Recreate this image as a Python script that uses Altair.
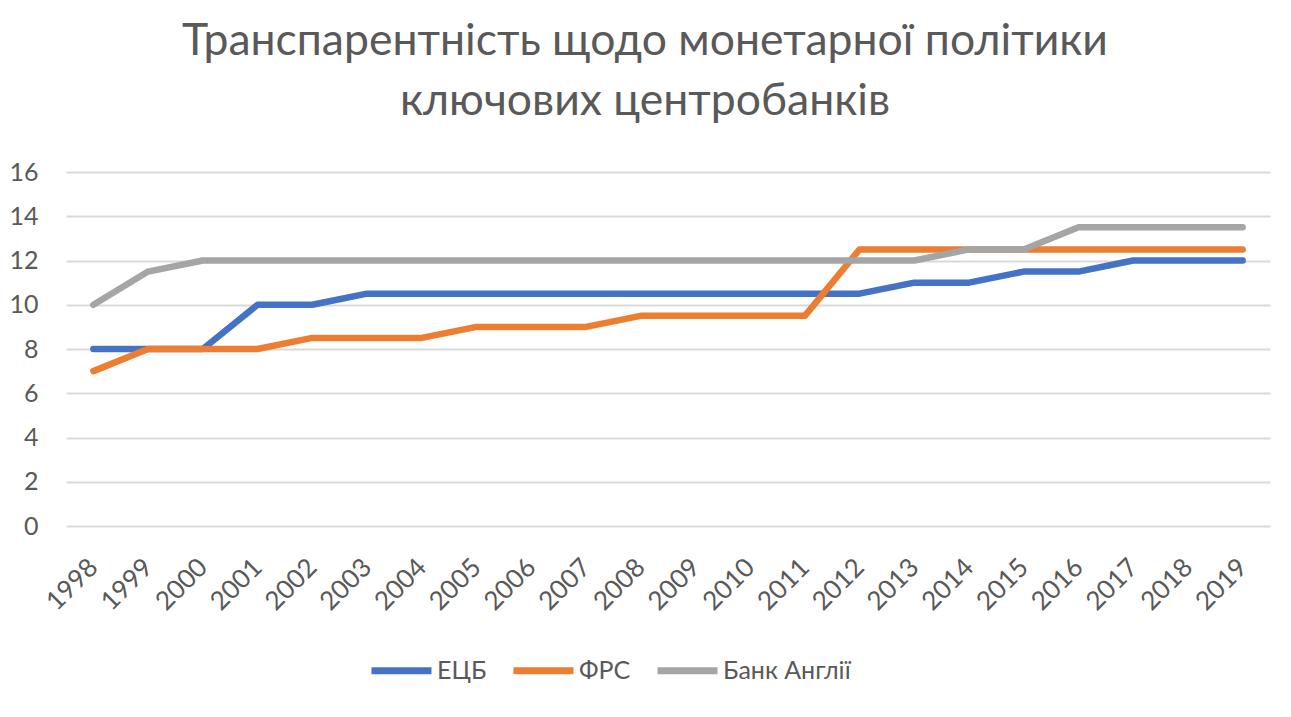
import altair as alt
import pandas as pd

# Values
years = [str(y) for y in range(1998, 2020)]
ecb = [8, 8, 8, 10, 10, 10.5, 10.5, 10.5, 10.5, 10.5, 10.5, 10.5, 10.5, 10.5,
       10.5, 11, 11, 11.5, 11.5, 12, 12, 12]
fed = [7, 8, 8, 8, 8.5, 8.5, 8.5, 9, 9, 9, 9.5, 9.5, 9.5, 9.5,
       12.5, 12.5, 12.5, 12.5, 12.5, 12.5, 12.5, 12.5]
boe = [10, 11.5, 12, 12, 12, 12, 12, 12, 12, 12, 12, 12, 12, 12,
       12, 12, 12.5, 12.5, 13.5, 13.5, 13.5, 13.5]
series = ['ЕЦБ', 'ФРС', 'Банк Англії']
colors = ['#4472C4', '#ED7D31', '#A5A5A5']

rows = []
for name, vals in zip(series, [ecb, fed, boe]):
    for y, v in zip(years, vals):
        rows.append({'year': y, 'value': v, 'series': name})
df = pd.DataFrame(rows)

text_color = '#595959'
font = 'Lato'

chart = alt.Chart(df).mark_line(
    strokeWidth=6.5, strokeCap='round', strokeJoin='round'
).encode(
    x=alt.X('year:O',
            scale=alt.Scale(type='point', padding=0.5),
            sort=years,
            axis=alt.Axis(title=None, labelAngle=-45, labelAlign='right',
                          labelBaseline='middle', labelPadding=37,
                          ticks=False, domain=False, grid=False,
                          labelFontSize=26, labelColor=text_color, labelFont=font)),
    y=alt.Y('value:Q',
            scale=alt.Scale(domain=[0, 16]),
            axis=alt.Axis(title=None, values=list(range(0, 17, 2)),
                          ticks=False, domain=False, grid=True,
                          gridColor='#D9D9D9', gridWidth=2,
                          labelPadding=28, labelFontSize=25,
                          labelColor=text_color, labelFont=font)),
    color=alt.Color('series:N',
                    scale=alt.Scale(domain=series, range=colors),
                    sort=series,
                    legend=alt.Legend(title=None, orient='none', direction='horizontal',
                                      legendX=302, legendY=465,
                                      symbolType='stroke', symbolSize=3600,
                                      symbolStrokeWidth=7, labelOffset=2,
                                      columnPadding=12, labelFontSize=25,
                                      labelColor=text_color, labelFont=font)),
).properties(
    width=1204,
    height=354,
    padding={'left': 58, 'top': 164, 'right': 10, 'bottom': 175},
    autosize=alt.AutoSizeParams(type='none'),
    title=alt.TitleParams(
        text=['Транспарентність щодо монетарної політики', 'ключових центробанків'],
        anchor='middle', dx=-23, offset=36, fontSize=44.5, lineHeight=60,
        font=font, fontWeight='normal', color=text_color),
).configure_view(
    strokeWidth=0
)

chart.save("out.html", embed_options={"renderer": "svg", "actions": False})
